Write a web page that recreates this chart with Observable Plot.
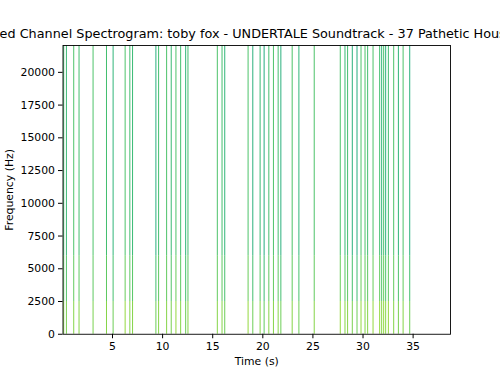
<!DOCTYPE html>
<html>
<head>
<meta charset="utf-8">
<script src="https://cdn.jsdelivr.net/npm/d3@7"></script>
<script src="https://cdn.jsdelivr.net/npm/@observablehq/plot@0.6"></script>
<style>
  html, body { margin: 0; padding: 0; background: #fff; }
  #chart svg { display: block; }
</style>
</head>
<body>
<div id="chart"></div>
<script>
// Spectrogram columns (start time, s) where energy is present
const times = [0.13, 0.40, 1.13, 1.66, 3.06, 4.40, 5.06, 6.26, 6.73, 7.00,
  9.33, 9.60, 10.40, 10.86, 11.33, 11.80, 12.30, 12.53, 15.46, 15.93, 16.20,
  18.53, 19.00, 19.73, 20.13, 20.60, 21.06, 21.53, 21.80, 22.93, 23.60, 25.13,
  27.73, 28.20, 28.46, 28.93, 29.40, 29.80, 30.20, 30.46, 31.00, 31.66, 31.86,
  32.06, 32.26, 32.53, 33.06, 33.53, 34.00, 34.66];
// colour level (viridis 0..1) of the upper part of each column
const upperLevels = [0.70, 0.68, 0.72, 0.70, 0.72, 0.70, 0.66, 0.72, 0.70, 0.68,
  0.64, 0.70, 0.72, 0.68, 0.72, 0.70, 0.66, 0.70, 0.72, 0.70, 0.66,
  0.72, 0.64, 0.68, 0.62, 0.70, 0.72, 0.70, 0.64, 0.72, 0.66, 0.72,
  0.72, 0.68, 0.70, 0.64, 0.62, 0.72, 0.72, 0.70, 0.72, 0.70, 0.66,
  0.72, 0.64, 0.70, 0.72, 0.66, 0.72, 0.64];
// colour level of the mid-low part (2500-6000 Hz) of each column
const midLevels = [0.75, 0.73, 0.76, 0.75, 0.75, 0.75, 0.71, 0.77, 0.75, 0.74,
  0.70, 0.75, 0.76, 0.73, 0.77, 0.75, 0.71, 0.75, 0.76, 0.75, 0.71,
  0.77, 0.70, 0.74, 0.68, 0.75, 0.76, 0.75, 0.70, 0.76, 0.71, 0.76,
  0.77, 0.74, 0.75, 0.71, 0.69, 0.77, 0.76, 0.75, 0.77, 0.76, 0.73,
  0.77, 0.72, 0.76, 0.76, 0.72, 0.76, 0.70];
// colour level of the lowest part (0-2500 Hz) of each column
const lowLevels = [0.82, 0.80, 0.82, 0.82, 0.80, 0.82, 0.78, 0.84, 0.82, 0.82,
  0.78, 0.82, 0.82, 0.80, 0.84, 0.82, 0.78, 0.82, 0.82, 0.82, 0.78,
  0.84, 0.78, 0.82, 0.76, 0.82, 0.82, 0.82, 0.78, 0.82, 0.78, 0.82,
  0.84, 0.82, 0.82, 0.80, 0.78, 0.84, 0.82, 0.82, 0.84, 0.84, 0.82,
  0.84, 0.82, 0.84, 0.82, 0.80, 0.82, 0.78];
const freqBands = [0, 2500, 6000, 22050];
const frameWidth = 0.1; // seconds per spectrogram column
const xTicks = [5, 10, 15, 20, 25, 30, 35];
const yTicks = [0, 2500, 5000, 7500, 10000, 12500, 15000, 17500, 20000];
const title = "Mixed Channel Spectrogram: toby fox - UNDERTALE Soundtrack - 37 Pathetic House";

const cells = [];
times.forEach((t, i) => {
  const levels = [lowLevels[i], midLevels[i], upperLevels[i]];
  levels.forEach((v, j) => {
    cells.push({t0: t, t1: t + frameWidth, f0: freqBands[j], f1: freqBands[j + 1], v});
  });
});

const chart = Plot.plot({
  width: 500,
  height: 375,
  marginLeft: 62.5,
  marginRight: 50,
  marginTop: 45,
  marginBottom: 41.25,
  style: {fontFamily: "DejaVu Sans", background: "#fff", color: "#000"},
  x: {domain: [0.06, 38.73]},
  y: {domain: [0, 22050]},
  color: {type: "linear", scheme: "viridis", domain: [0, 1]},
  marks: [
    Plot.rect(cells, {x1: "t0", x2: "t1", y1: "f0", y2: "f1", fill: "v", inset: 0}),
    Plot.frame({stroke: "#000", strokeWidth: 0.9}),
    Plot.axisX({ticks: xTicks, tickSize: 4.5, tickPadding: 3.5, fontSize: 10.85,
      label: "Time (s)", labelAnchor: "center", labelArrow: "none", labelOffset: 31}),
    Plot.axisY({ticks: yTicks, tickSize: 4.5, tickPadding: 3.5, fontSize: 10.85,
      tickFormat: d => String(d),
      label: "Frequency (Hz)", labelAnchor: "center", labelArrow: "none", labelOffset: 58}),
    Plot.text([title], {frameAnchor: "top", dy: -17, dx: -11, fontSize: 12.8, fill: "#000", textAnchor: "middle"})
  ]
});
document.getElementById("chart").appendChild(chart);
</script>
</body>
</html>
